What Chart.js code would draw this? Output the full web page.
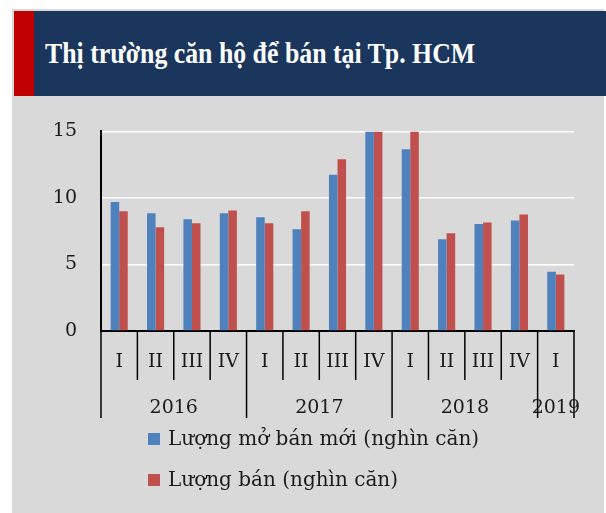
<!DOCTYPE html>
<html>
<head>
<meta charset="utf-8">
<script src="https://cdn.jsdelivr.net/npm/chart.js@4.4.1/dist/chart.umd.min.js"></script>
<style>
  html, body { margin: 0; padding: 0; background: #fff; }
  body { width: 606px; height: 513px; position: relative; overflow: hidden; }
  #panel { position: absolute; left: 12px; top: 9px; width: 592px; height: 504px; background: #d9d9d9; }
  #banner { position: absolute; left: 14px; top: 11px; width: 592px; height: 85px; background: #1b365d; }
  #stripe { position: absolute; left: 0; top: 0; width: 20px; height: 85px; background: #c00000; }
  #title {
    position: absolute; left: 31px; top: 0; height: 85px; line-height: 85px;
    color: #fff; font-family: "Liberation Serif", serif; font-weight: bold; font-size: 29px;
    white-space: nowrap; transform: scaleX(0.89); transform-origin: left center;
  }
  #wrap { position: absolute; left: 12px; top: 96px; width: 592px; height: 417px; }
</style>
</head>
<body>
<div id="panel"></div>
<div id="banner"><div id="stripe"></div><div id="title">Thị trường căn hộ để bán tại Tp. HCM</div></div>
<div id="wrap"><canvas id="chart" width="592" height="417"></canvas></div>
<script>
// quý và năm
const quarters = ['I', 'II', 'III', 'IV', 'I', 'II', 'III', 'IV', 'I', 'II', 'III', 'IV', 'I'];
const years = ['2016', '2017', '2018', '2019'];
const yearSpans = [4, 4, 4, 1];

// nghìn căn
const newSupply = [9.7, 8.85, 8.4, 8.85, 8.55, 7.65, 11.75, 15, 13.65, 6.9, 8.05, 8.3, 4.45];
const sold = [9.0, 7.8, 8.1, 9.05, 8.1, 9.0, 12.9, 15, 15, 7.35, 8.15, 8.75, 4.25];

const seriesNames = ['Lượng mở bán mới (nghìn căn)', 'Lượng bán (nghìn căn)'];
const seriesColors = ['#4f81bd', '#c0504d'];

const labelFont = '"DejaVu Serif", serif';
const textColor = '#1a1a1a';

// nhãn trục x hai tầng + chú thích
const multiAxis = {
    id: 'multiAxis',
    afterDraw(chart) {
        const ctx = chart.ctx;
        const x = chart.scales.x;
        const area = chart.chartArea;
        const step = x.getPixelForValue(1) - x.getPixelForValue(0);
        const base = area.bottom;

        ctx.save();
        ctx.strokeStyle = '#000';
        ctx.lineWidth = 1.5;
        ctx.fillStyle = textColor;
        ctx.font = '19px ' + labelFont;
        ctx.textAlign = 'center';
        ctx.textBaseline = 'middle';

        // ranh giới năm
        const yearStarts = [];
        let idx = 0;
        yearSpans.forEach(n => { yearStarts.push(idx); idx += n; });
        yearStarts.push(idx);

        for (let i = 0; i <= quarters.length; i++) {
            const px = x.getPixelForValue(i) - step / 2;
            const long = yearStarts.includes(i);
            ctx.beginPath();
            ctx.moveTo(px, base);
            ctx.lineTo(px, base + (long ? 87 : 49));
            ctx.stroke();
        }

        quarters.forEach((q, i) => {
            ctx.fillText(q, x.getPixelForValue(i), base + 31);
        });

        years.forEach((yr, k) => {
            const a = yearStarts[k], b = yearStarts[k + 1];
            const cx = (x.getPixelForValue(a) + x.getPixelForValue(b - 1)) / 2;
            ctx.fillText(yr, cx, base + 77);
        });

        // chú thích
        ctx.textAlign = 'left';
        ctx.font = '20px ' + labelFont;
        chart.data.datasets.forEach((ds, k) => {
            const ly = base + 108 + k * 41;
            ctx.fillStyle = ds.backgroundColor;
            ctx.fillRect(area.left + 47, ly - 6, 12, 12);
            ctx.fillStyle = textColor;
            ctx.fillText(ds.label, area.left + 67, ly + 1);
        });
        ctx.restore();
    }
};

new Chart(document.getElementById('chart'), {
    type: 'bar',
    data: {
        labels: quarters,
        datasets: [
            { label: seriesNames[0], data: newSupply, backgroundColor: seriesColors[0] },
            { label: seriesNames[1], data: sold, backgroundColor: seriesColors[1] }
        ]
    },
    options: {
        responsive: false,
        animation: false,
        layout: { padding: { top: 35, right: 30, left: 0, bottom: 0 } },
        datasets: { bar: { categoryPercentage: 0.47, barPercentage: 1.0 } },
        plugins: { legend: { display: false }, tooltip: { enabled: false } },
        scales: {
            x: {
                grid: { display: false },
                ticks: { display: false },
                border: { color: '#000', width: 2 },
                afterFit: s => { s.height = 182; }
            },
            y: {
                min: 0,
                max: 15,
                ticks: { stepSize: 5, padding: 24, color: textColor, font: { family: labelFont, size: 19 } },
                grid: { color: '#fff', lineWidth: 1.5, drawTicks: false },
                border: { color: '#000', width: 2 },
                afterFit: s => { s.width = 89; }
            }
        }
    },
    plugins: [multiAxis]
});
</script>
</body>
</html>
